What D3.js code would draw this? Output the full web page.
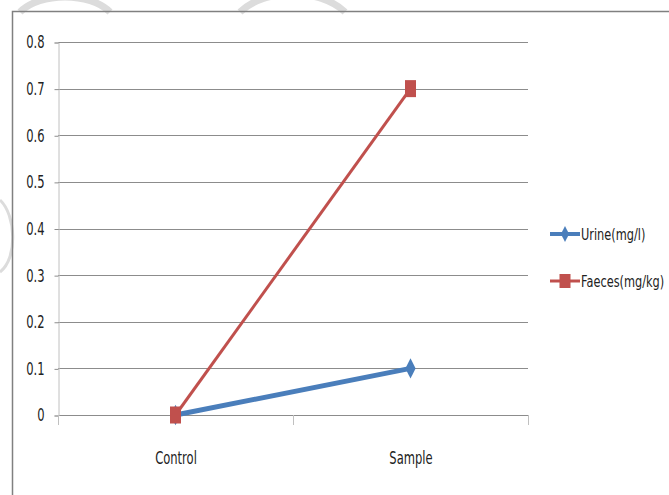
<!DOCTYPE html>
<html>
<head>
<meta charset="utf-8">
<script src="https://cdn.jsdelivr.net/npm/d3@7"></script>
<style>
  body { margin: 0; background: #fff; }
  text { font-family: "DejaVu Sans", sans-serif; fill: #222; }
</style>
</head>
<body>
<svg id="chart"></svg>
<script>
// data
const categories = ["Control", "Sample"];
const urine = [0, 0.1];
const faeces = [0, 0.7];
const yTicks = [0, 0.1, 0.2, 0.3, 0.4, 0.5, 0.6, 0.7, 0.8];
const seriesNames = ["Urine(mg/l)", "Faeces(mg/kg)"];

const width = 669, height = 495;
const margin = {top: 42, bottom: 80, left: 58, right: 141};

const svg = d3.select("#chart")
    .attr("width", width)
    .attr("height", height);

// squeeze text horizontally around its anchor (no narrow font installed)
function condense(sel, s) {
    sel.attr("transform", function() {
        const x0 = +this.getAttribute("x") || 0;
        return `translate(${x0 * (1 - s)},0) scale(${s},1)`;
    });
}

// faint watermark arcs behind the chart
svg.append("path")
    .attr("d", "M20,12 C40,-8 90,-8 110,12 M240,12 C265,-12 320,-12 345,12")
    .attr("fill", "none").attr("stroke", "#dcdcdc").attr("stroke-width", 7);
svg.append("path")
    .attr("d", "M0,200 C16,215 18,258 0,272")
    .attr("fill", "none").attr("stroke", "#dcdcdc").attr("stroke-width", 3);

// chart frame (top and left edges visible)
svg.append("path")
    .attr("d", `M12.5,${height} L12.5,11.5 L${width},11.5`)
    .attr("fill", "none")
    .attr("stroke", "#808080")
    .attr("stroke-width", 1.5);

const x = d3.scaleBand()
    .domain(categories)
    .range([margin.left, width - margin.right]);

const y = d3.scaleLinear()
    .domain([0, 0.8])
    .range([height - margin.bottom, margin.top]);

// gridlines
svg.append("g")
    .selectAll("line")
    .data(yTicks)
    .enter().append("line")
    .attr("x1", margin.left)
    .attr("x2", width - margin.right)
    .attr("y1", d => Math.round(y(d)) + 0.5)
    .attr("y2", d => Math.round(y(d)) + 0.5)
    .attr("stroke", "#8c8c8c")
    .attr("stroke-width", 1);

// y axis
const yAxis = svg.append("g")
    .attr("transform", `translate(${margin.left + 0.5},0.5)`)
    .call(d3.axisLeft(y).tickValues(yTicks).tickSize(4).tickPadding(10).tickFormat(d3.format("")));
yAxis.select(".domain").attr("stroke", "#c0c0c0");
yAxis.selectAll(".tick line").attr("stroke", "#8c8c8c");
yAxis.selectAll("text").style("font-size", "17px").attr("fill", "#222").call(condense, 0.68);

// x axis
const xAxis = svg.append("g")
    .attr("transform", `translate(0.5,${Math.round(y(0)) + 0.5})`)
    .call(d3.axisBottom(x).tickSize(0).tickPadding(36));
xAxis.select(".domain").remove();
xAxis.selectAll("text").style("font-size", "17px").attr("fill", "#222").call(condense, 0.68);

// category boundary ticks
const bounds = [margin.left, margin.left + x.bandwidth(), width - margin.right];
svg.append("g")
    .selectAll("line")
    .data(bounds)
    .enter().append("line")
    .attr("x1", d => Math.round(d) + 0.5)
    .attr("x2", d => Math.round(d) + 0.5)
    .attr("y1", Math.round(y(0)))
    .attr("y2", Math.round(y(0)) + 10)
    .attr("stroke", "#c0c0c0");

const cx = d => x(d) + x.bandwidth() / 2;
const line = d3.line()
    .x((d, i) => cx(categories[i]))
    .y(d => y(d));

const diamond = d3.symbol().type(d3.symbolDiamond).size(90);

// urine line + diamonds
svg.append("path")
    .datum(urine)
    .attr("d", line)
    .attr("fill", "none")
    .attr("stroke", "#4a7ebb")
    .attr("stroke-width", 5);

svg.selectAll(".dm")
    .data(urine)
    .enter().append("path")
    .attr("class", "dm")
    .attr("d", diamond)
    .attr("transform", (d, i) => `translate(${cx(categories[i])},${y(d)}) scale(1,1.15)`)
    .attr("fill", "#4a7ebb");

// faeces line + squares
svg.append("path")
    .datum(faeces)
    .attr("d", line)
    .attr("fill", "none")
    .attr("stroke", "#c0504d")
    .attr("stroke-width", 3);

svg.selectAll(".sq")
    .data(faeces)
    .enter().append("rect")
    .attr("class", "sq")
    .attr("x", (d, i) => cx(categories[i]) - 5.5)
    .attr("y", d => y(d) - 8.5)
    .attr("width", 11)
    .attr("height", 17)
    .attr("fill", "#c0504d");

// legend
const legendColors = ["#4a7ebb", "#c0504d"];
const legend = svg.selectAll(".legend")
    .data(seriesNames)
    .enter().append("g")
    .attr("class", "legend")
    .attr("transform", (d, i) => `translate(550, ${234 + i * 47})`);

legend.append("line")
    .attr("x1", 0).attr("x2", 30)
    .attr("y1", 0).attr("y2", 0)
    .attr("stroke", (d, i) => legendColors[i])
    .attr("stroke-width", (d, i) => i === 0 ? 4 : 3);

legend.filter((d, i) => i === 0).append("path")
    .attr("d", diamond)
    .attr("transform", "translate(15,0) scale(0.8,0.9)")
    .attr("fill", legendColors[0]);

legend.filter((d, i) => i === 1).append("rect")
    .attr("x", 9.5).attr("y", -7)
    .attr("width", 11).attr("height", 14)
    .attr("fill", legendColors[1]);

legend.append("text")
    .attr("x", 31)
    .attr("y", 0)
    .attr("dy", "0.35em")
    .style("font-size", "16px")
    .text(d => d)
    .call(condense, 0.71);
</script>
</body>
</html>
